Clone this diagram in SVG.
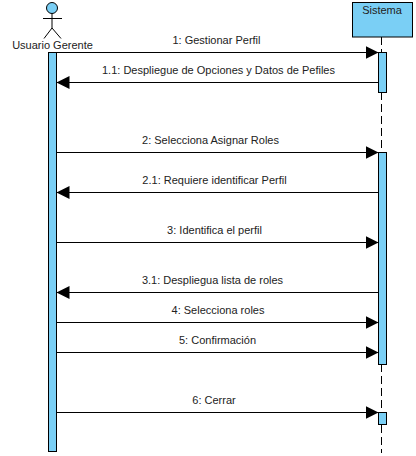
<svg xmlns="http://www.w3.org/2000/svg" width="416" height="456" viewBox="0 0 416 456">
<defs>
<marker id="ah" markerUnits="userSpaceOnUse" markerWidth="14" markerHeight="14" refX="13" refY="7" orient="auto"><path d="M0,0.5 L13,7 L0,13.5 Z" fill="#000"/></marker>
</defs>
<style>
text{font-family:"Liberation Sans",Arial,sans-serif;font-size:11px;fill:#222;text-anchor:middle}
.act{fill:#7ACFF5;stroke:#000;stroke-width:1}
.msg{stroke:#000;stroke-width:1;fill:none;marker-end:url(#ah)}
.life{stroke:#000;stroke-width:1;stroke-dasharray:8 4;fill:none}
.fig{stroke:#000;stroke-width:1;fill:none}
</style>
<rect width="416" height="456" fill="#fff"/>
<g id="lifeline"><path class="life" d="M381.5 37V52M381.5 92V152M381.5 364V411M381.5 425V453"/></g>
<g id="actor-usuario-gerente">
<circle cx="52" cy="8" r="5.5" fill="#7ACFF5" stroke="#000"/>
<path class="fig" d="M52 13.5V28M43 18.5H62M52 28L44 38.500M52 28L61 38.500"/>
<text x="52.500" y="49">Usuario Gerente</text>
<rect class="act" x="48.500" y="52.500" width="8" height="399"/>
</g>
<g id="node-sistema">
<rect class="act" x="352.500" y="2.500" width="60" height="34.500"/>
<text x="382" y="14">Sistema</text>
</g>
<g id="activations">
<rect class="act" x="378.500" y="52.500" width="8" height="40"/>
<rect class="act" x="378.500" y="152.500" width="8" height="212"/>
<rect class="act" x="378.500" y="412.500" width="8" height="12"/>
</g>
<g id="connectors">
<path class="msg" d="M56.500 52.500H378.500"/>
<path class="msg" d="M378.500 82.500H56.500"/>
<path class="msg" d="M56.500 152.500H378.500"/>
<path class="msg" d="M378.500 192.500H56.500"/>
<path class="msg" d="M56.500 242.500H378.500"/>
<path class="msg" d="M378.500 292.500H56.500"/>
<path class="msg" d="M56.500 322.500H378.500"/>
<path class="msg" d="M56.500 352.500H378.500"/>
<path class="msg" d="M56.500 412.500H378.500"/>
</g>
<g id="labels">
<text x="216.500" y="44">1: Gestionar Perfil</text>
<text x="218.500" y="74">1.1: Despliegue de Opciones y Datos de Pefiles</text>
<text x="210.500" y="144">2: Selecciona Asignar Roles</text>
<text x="214.500" y="184">2.1: Requiere identificar Perfil</text>
<text x="214.500" y="234">3: Identifica el perfil</text>
<text x="212.500" y="284">3.1: Despliegua lista de roles</text>
<text x="218" y="314">4: Selecciona roles</text>
<text x="217.500" y="344">5: Confirmación</text>
<text x="214" y="404">6: Cerrar</text>
</g>
</svg>
